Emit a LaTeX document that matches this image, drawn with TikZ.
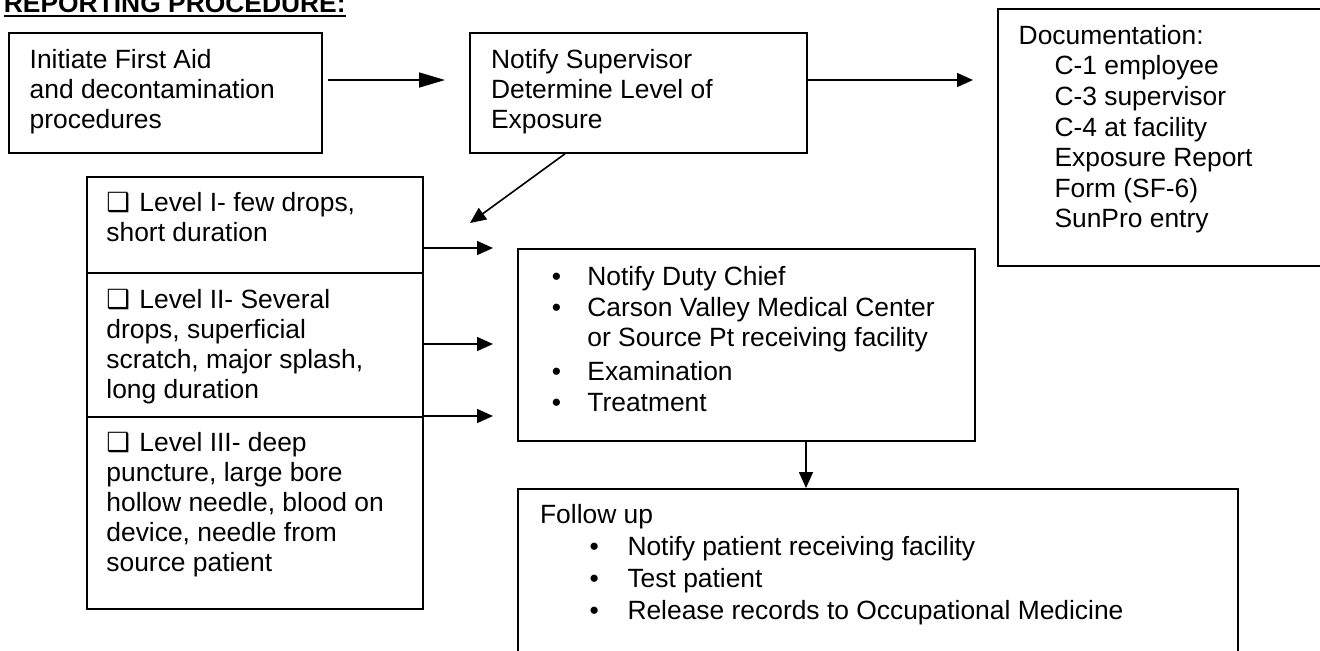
\documentclass[tikz,border=0pt]{standalone}
\usepackage{fontspec}
\setmainfont{Liberation Sans}
\newfontfamily\boxglyph{DejaVu Sans}
\usepackage{tikz}
\usetikzlibrary{arrows.meta}
\newcommand{\rpbullet}[1]{\makebox[#1][l]{\textbullet}}
\newcommand{\rpcheck}{\makebox[16.5pt][l]{\boxglyph ❑}}
\tikzset{
  rpbox/.style={draw=black, line width=0.9pt, inner sep=0pt, anchor=north west},
  rptext/.style={anchor=base west, inner sep=0pt, font=\fontsize{13.2pt}{15pt}\selectfont},
  rpedge/.style={-{Triangle[length=8pt,width=7pt]}, line width=0.8pt},
  rpedgelong/.style={-{Triangle[length=13pt,width=7.5pt]}, line width=0.8pt}
}
\begin{document}
\begin{tikzpicture}[x=0.5pt,y=-0.5pt]
\useasboundingbox (0,0) rectangle (1320,650);
% heading
\node[rptext,font=\fontsize{13.2pt}{15pt}\selectfont\bfseries] (title) at (3.5,12.3) {REPORTING PROCEDURE:};
\draw[line width=1pt] ([yshift=-2pt]title.base west) -- ([yshift=-2pt]title.base east);

% boxes
\node[rpbox,minimum width=156.5pt,minimum height=60pt] (aid) at (8,32) {};
\node[rpbox,minimum width=168.5pt,minimum height=60pt] (notify) at (469,32) {};
\node[rpbox,minimum width=170pt,minimum height=128.5pt] (docs) at (997,8) {};
\node[rpbox,minimum width=168pt,minimum height=48pt] (lvlone) at (86,176) {};
\node[rpbox,minimum width=168pt,minimum height=72pt] (lvltwo) at (86,272) {};
\node[rpbox,minimum width=168pt,minimum height=96pt] (lvlthree) at (86,416) {};
\node[rpbox,minimum width=228.5pt,minimum height=96pt] (duty) at (517,248) {};
\node[rpbox,minimum width=360pt,minimum height=90pt] (follow) at (517,488) {};

% box texts
\node[rptext] (aidtext) at (29.3,68.3) {\begin{tabular}[t]{@{}l@{}}
  Initiate First Aid\\ and decontamination\\ procedures\end{tabular}};
\node[rptext] (notifytext) at (490.7,68.3) {\begin{tabular}[t]{@{}l@{}}
  Notify Supervisor\\ Determine Level of\\ Exposure\end{tabular}};
\node[rptext] (docstext) at (1018.3,44.3) {\begin{tabular}[t]{@{}l@{}}
  Documentation:\\[0.3pt]
  \hspace*{17.9pt}C-1 employee\\[0.3pt]
  \hspace*{17.9pt}C-3 supervisor\\[0.3pt]
  \hspace*{17.9pt}C-4 at facility\\[0.3pt]
  \hspace*{17.9pt}Exposure Report\\[0.3pt]
  \hspace*{17.9pt}Form (SF-6)\\[0.3pt]
  \hspace*{17.9pt}SunPro entry\end{tabular}};
\node[rptext] (lvlonetext) at (106,211.7) {\begin{tabular}[t]{@{}l@{}}
  \rpcheck Level I- few drops,\\ short duration\end{tabular}};
\node[rptext] (lvltwotext) at (106,308) {\begin{tabular}[t]{@{}l@{}}
  \rpcheck Level II- Several\\ drops, superficial\\ scratch, major splash,\\ long duration\end{tabular}};
\node[rptext] (lvlthreetext) at (106,451.7) {\begin{tabular}[t]{@{}l@{}}
  \rpcheck Level III- deep\\ puncture, large bore\\ hollow needle, blood on\\
  device, needle from\\ source patient\end{tabular}};
\node[rptext] (dutytext) at (551.4,285) {\begin{tabular}[t]{@{}l@{}}
  \rpbullet{17.8pt}Notify Duty Chief\\[0.5pt]
  \rpbullet{17.8pt}Carson Valley Medical Center\\
  \hspace*{17.8pt}or Source Pt receiving facility\\[2pt]
  \rpbullet{17.8pt}Examination\\[0.5pt]
  \rpbullet{17.8pt}Treatment\end{tabular}};
\node[rptext] (followtext) at (539.7,523) {\begin{tabular}[t]{@{}l@{}}
  Follow up\\[1pt]
  \hspace*{24.7pt}\rpbullet{19pt}Notify patient receiving facility\\[1pt]
  \hspace*{24.7pt}\rpbullet{19pt}Test patient\\[1pt]
  \hspace*{24.7pt}\rpbullet{19pt}Release records to Occupational Medicine\end{tabular}};

% connectors
\coordinate (lvltip) at (470,223);
\draw[rpedgelong,shorten <=2.5pt,shorten >=12pt] ([yshift=-24pt]aid.north east) -- ([yshift=-24pt]notify.north west);
\draw[rpedge,shorten >=12pt] ([yshift=-24pt]notify.north east) -- ([yshift=-36pt]docs.north west);
\draw[rpedge] ([xshift=48pt]notify.south west) -- (lvltip);
\draw[rpedge,shorten >=12pt] ([yshift=-36pt]lvlone.north east) -- (duty.north west);
\draw[rpedge,shorten >=12pt] ([yshift=-36pt]lvltwo.north east) -- ([yshift=-48pt]duty.north west);
\draw[rpedge,shorten >=12pt] (lvlthree.north east) -- ([yshift=-84pt]duty.north west);
\draw[rpedge] ([xshift=144.5pt]duty.south west) -- ([xshift=144.5pt]follow.north west);
\end{tikzpicture}
\end{document}
